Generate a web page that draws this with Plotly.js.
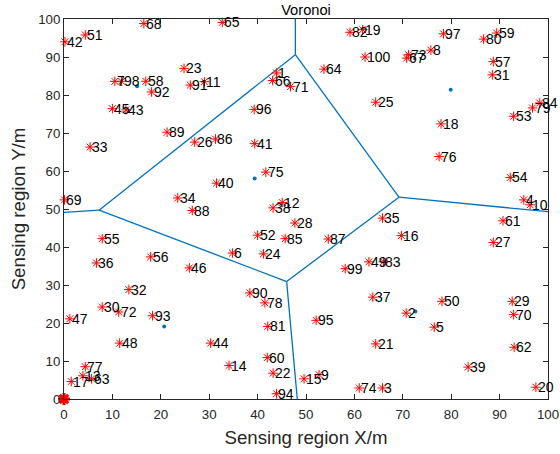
<!DOCTYPE html>
<html>
<head>
<meta charset="utf-8">
<script src="https://cdn.plot.ly/plotly-3.0.1.min.js"></script>
<style>html,body{margin:0;padding:0;background:#fff;}#chart{width:560px;height:454px;}</style>
</head>
<body>
<div id="chart"></div>
<script>
// Sensor node ids and positions (m)
const nodeIds = Array.from({length: 100}, (_, i) => i + 1);
const nodeX = [43.9,70.7,65.8,95.0,76.5,34.8,10.5,75.8,52.7,96.3,
               29.0,45.1,3.9,34.1,49.6,69.7,1.5,77.9,61.7,97.5,
               64.4,43.2,24.8,41.2,64.4,27.0,88.7,47.7,92.6,7.9,
               88.5,13.4,5.4,23.5,65.8,6.7,63.8,43.2,83.5,31.5,
               39.4,0.2,12.8,30.3,10.0,25.9,1.2,11.5,63.0,78.1,
               4.4,40.0,92.9,92.2,7.9,17.9,88.7,16.9,89.4,42.0,
               90.7,93.0,5.7,53.7,32.7,43.1,70.8,16.5,0.1,92.9,
               46.8,11.3,71.2,61.0,41.7,77.5,4.4,41.5,96.8,86.7,
               42.1,59.1,66.0,98.3,45.7,31.3,54.6,26.5,21.3,38.4,
               26.1,18.1,18.3,43.9,52.1,39.3,78.4,11.9,58.1,62.2];
const nodeY = [85.8,22.6,2.9,52.4,18.9,38.4,83.6,91.8,6.4,51.1,
               83.5,51.7,6.1,8.8,5.3,43.0,4.6,72.4,97.2,3.1,
               14.5,6.8,87.0,38.2,78.1,67.6,41.2,46.3,25.7,24.2,
               85.3,28.8,66.3,52.9,47.6,35.8,26.8,50.3,8.4,56.8,
               67.2,94.0,76.1,14.7,76.4,34.5,21.1,14.7,36.1,25.7,
               95.8,43.1,74.4,58.3,42.2,37.4,88.8,83.6,96.3,10.9,
               46.9,13.6,5.3,86.8,99.1,83.8,89.7,98.8,52.4,22.2,
               82.2,22.9,90.6,2.9,59.7,63.8,8.5,25.3,76.6,94.7,
               19.1,96.5,36.1,77.9,42.2,68.4,42.1,49.6,70.2,27.9,
               82.6,80.8,21.9,1.4,20.7,76.2,96.1,83.6,34.3,90.0];

// Sink at origin
const sinkX = [0];
const sinkY = [0];

// Voronoi generator sites
const siteX = [15.1, 79.9, 39.4, 20.7, 72.6];
const siteY = [82.3, 81.4, 58.0, 19.1, 23.0];

// Voronoi edges (segments separated by null)
const edgeX = [47.8, 47.8, null, 47.8, 7.24, null, 47.8, 69.2, null, 7.24, 0, null,
               7.24, 46.0, null, 46.0, 69.2, null, 46.0, 48.2, null, 69.2, 100];
const edgeY = [100, 90.6, null, 90.6, 49.7, null, 90.6, 53.1, null, 49.7, 49.1, null,
               49.7, 30.9, null, 30.9, 53.1, null, 30.9, 0, null, 53.1, 49.3];

const tickVals = [0,10,20,30,40,50,60,70,80,90,100];

const FONT = 'Liberation Sans, Arial, Helvetica, sans-serif';
const blue = '#0072BD';

const traces = [
  {x: edgeX, y: edgeY, mode: 'lines', type: 'scatter',
   line: {color: blue, width: 1.3}, hoverinfo: 'skip', showlegend: false},
  {x: siteX, y: siteY, mode: 'markers', type: 'scatter',
   marker: {color: blue, size: 4}, showlegend: false},
  {x: nodeX, y: nodeY, mode: 'markers', type: 'scatter', cliponaxis: false,
   marker: {symbol: 'asterisk-open', size: 8, color: '#FF0000',
            line: {color: '#FF0000', width: 1}}, showlegend: false},
  {x: sinkX, y: sinkY, mode: 'markers', type: 'scatter', cliponaxis: false,
   marker: {symbol: 'asterisk-open', size: 10, color: '#FF0000',
            line: {color: '#FF0000', width: 3}}, showlegend: false}
];

const annotations = nodeIds.map((id, i) => ({
  x: nodeX[i], y: nodeY[i], xref: 'x', yref: 'y', text: String(id),
  showarrow: false, xanchor: 'left', yanchor: 'middle', xshift: 1,
  borderpad: 0, font: {family: FONT, size: 14, color: '#000000'}
}));

const axisCommon = {
  range: [0, 100], tickvals: tickVals, ticktext: tickVals.map(String),
  ticks: 'inside', ticklen: 5, tickwidth: 1, tickcolor: '#262626',
  showline: true, linecolor: '#262626', linewidth: 1, mirror: 'ticks',
  showgrid: false, zeroline: false, automargin: false,
  tickfont: {family: FONT, size: 13.3, color: '#262626'}
};

const layout = {
  width: 560, height: 454,
  margin: {l: 64, r: 12, t: 19, b: 55},
  paper_bgcolor: '#ffffff', plot_bgcolor: '#ffffff',
  font: {family: FONT},
  showlegend: false,
  title: {text: 'Voronoi', font: {family: FONT, size: 14.67, color: '#000000'},
          x: 0.5, xref: 'paper', xanchor: 'center', y: 1, yref: 'paper', yanchor: 'bottom', pad: {b: 4}},
  xaxis: Object.assign({}, axisCommon, {
    ticklabelstandoff: 3,
    title: {text: 'Sensing region X/m', font: {family: FONT, size: 18.7, color: '#262626'}, standoff: 9}
  }),
  yaxis: Object.assign({}, axisCommon, {
    title: {text: 'Sensing region Y/m', font: {family: FONT, size: 18.7, color: '#262626'}, standoff: 7}
  }),
  annotations: annotations
};

Plotly.newPlot('chart', traces, layout, {displayModeBar: false, staticPlot: true});
</script>
</body>
</html>
